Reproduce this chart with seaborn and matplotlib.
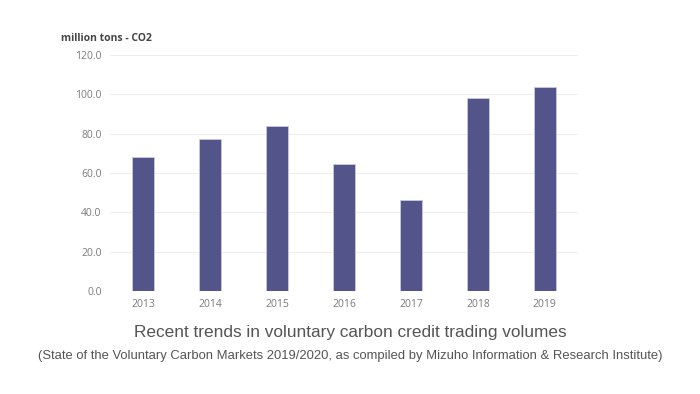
import numpy as np
import pandas as pd
import matplotlib
matplotlib.use("Agg")
import matplotlib.pyplot as plt
import seaborn as sns

# values (million tons CO2)
years = ["2013", "2014", "2015", "2016", "2017", "2018", "2019"]
volumes = [68.3, 77.3, 84.2, 64.7, 46.4, 98.3, 103.9]
y_ticks = [0, 20, 40, 60, 80, 100, 120]

df = pd.DataFrame({"Year": years, "Volume": volumes})

sns.set_theme(style="white")
plt.rcParams["font.family"] = ["Open Sans", "DejaVu Sans"]

fig = plt.figure(figsize=(7, 3.94), dpi=100)
ax = fig.add_axes([0.157, 0.261, 0.669, 0.599])

sns.barplot(data=df, x="Year", y="Volume", color="#53548a", width=0.33,
            edgecolor="#c9c9e0", linewidth=0.6, saturation=1, ax=ax)

ax.set_ylim(0, 120)
ax.set_yticks(y_ticks)
ax.set_yticklabels([f"{v:.1f}" for v in y_ticks])
ax.yaxis.grid(True, color="#eeeeee", linewidth=0.8)
ax.set_axisbelow(True)
for s in ax.spines.values():
    s.set_visible(False)
ax.tick_params(axis="both", length=0, labelsize=7.5, colors="#7a7a7a", pad=6)
ax.set_xlabel("")
ax.set_ylabel("")
ax.set_xlim(-0.5, 6.5)

fig.text(0.087, 0.903, "million tons - CO2", fontsize=7.5, fontweight="bold",
         color="#444444", ha="left", va="center")

fig.text(0.5, 0.157, "Recent trends in voluntary carbon credit trading volumes",
         fontsize=12.4, color="#555555", ha="center", va="center",
         family=["Liberation Sans", "DejaVu Sans"])
fig.text(0.5, 0.097,
         "(State of the Voluntary Carbon Markets 2019/2020, as compiled by Mizuho Information & Research Institute)",
         fontsize=9.35, color="#555555", ha="center", va="center",
         family=["Liberation Sans", "DejaVu Sans"])

fig.savefig("out.png", dpi=100, facecolor="white")
